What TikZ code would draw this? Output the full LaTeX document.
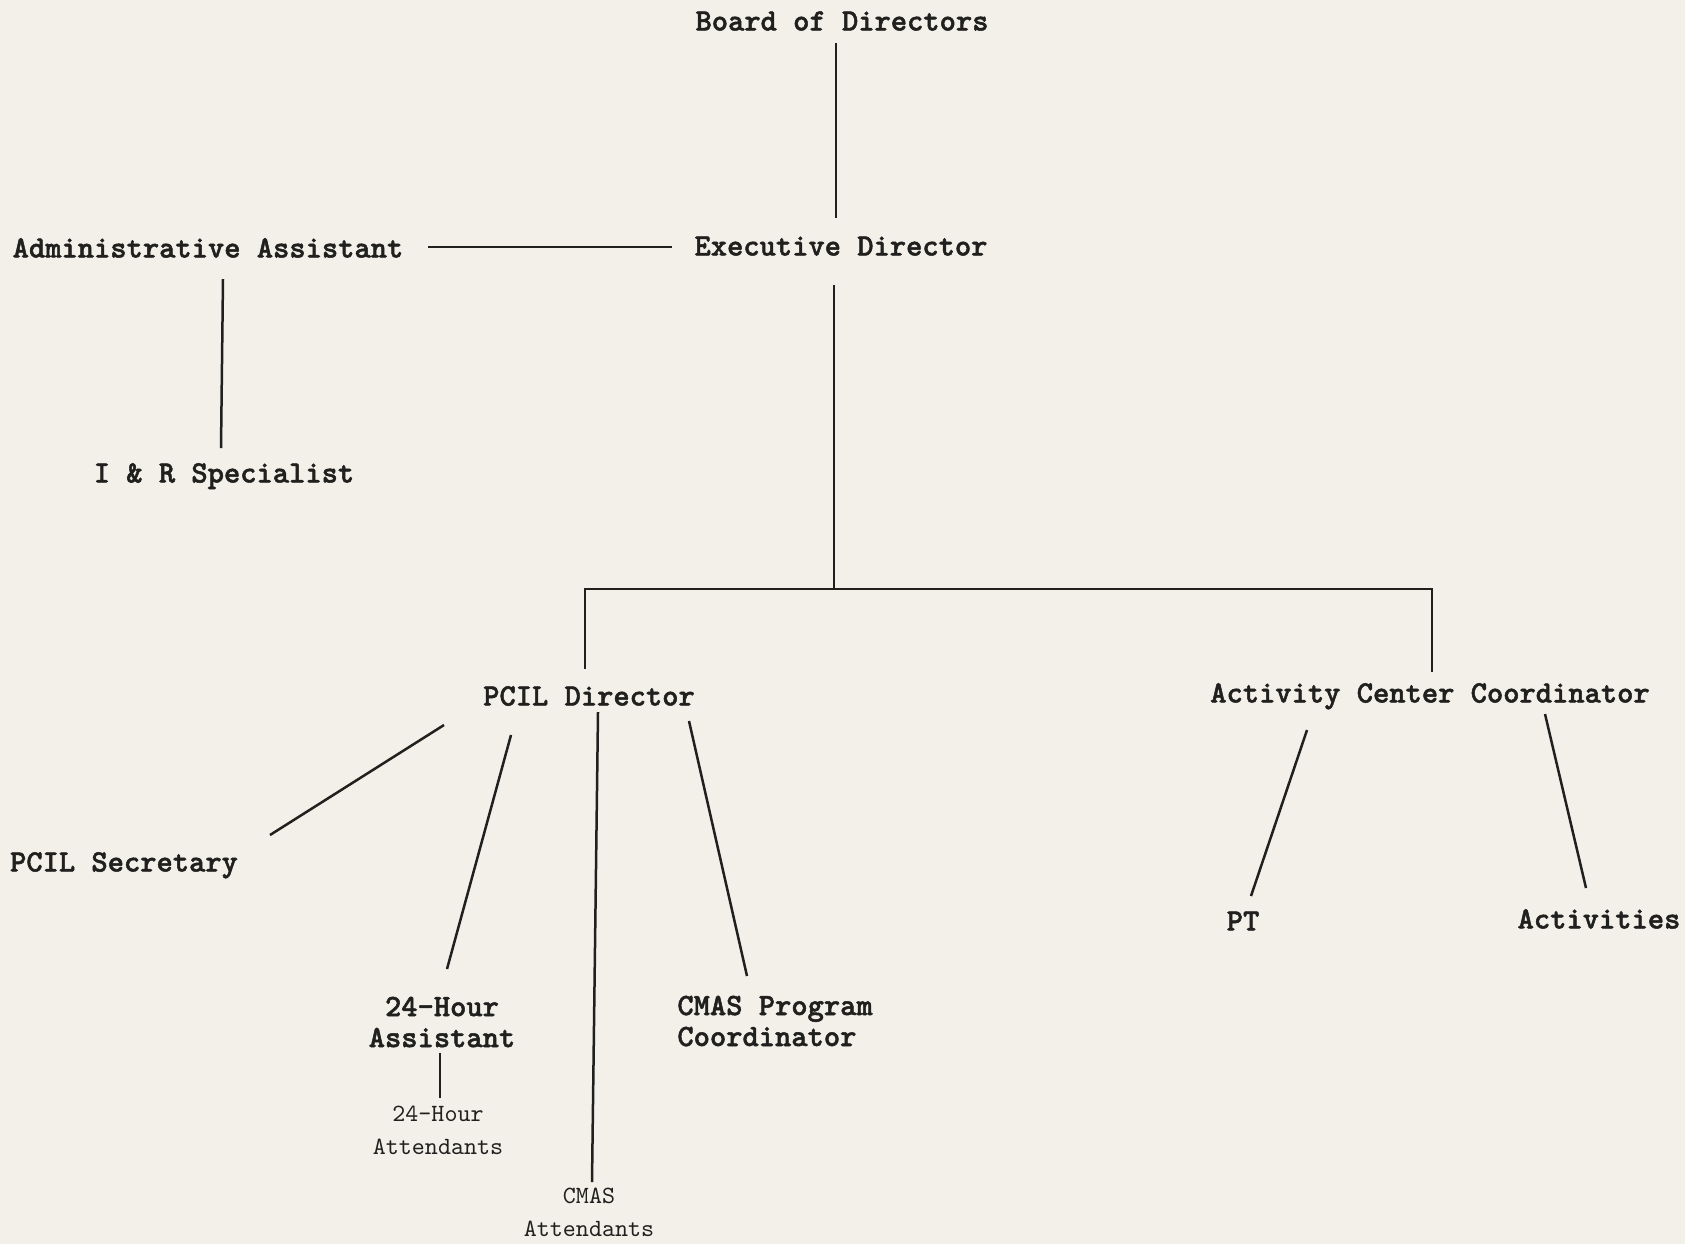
\documentclass[tikz,border=0pt]{standalone}
\usepackage{fontspec}
\newfontfamily\typebold{lmmonolt10-bold.otf}[FakeBold=1.6]
\newfontfamily\typeplain{lmmono10-regular.otf}
\definecolor{paper}{RGB}{242,240,232}
\definecolor{ink}{RGB}{32,32,30}

\begin{document}
\begin{tikzpicture}[x=0.5pt, y=-0.5pt,
    post/.style={inner sep=0pt, text=ink, text height=9.45pt, text depth=0pt, font=\typebold\fontsize{15.5}{15.5}\selectfont},
    post2/.style={inner sep=0pt, text=ink, font=\typebold\fontsize{15.5}{15.5}\selectfont},
    staff/.style={inner sep=0pt, text=ink, align=center, font=\typeplain\fontsize{12.4}{16.5}\selectfont},
    tie/.style={draw=ink, line width=1.25pt}]

    \fill[paper] (0,0) rectangle (1685,1244);
    \useasboundingbox (0,0) rectangle (1685,1244);

    % top of the chart
    \node[post] (board) at (842,21) {Board of Directors};
    \node[post] (exec) at (841,246) {Executive Director};
    \node[post] (admin) at (208,248) {Administrative Assistant};
    \node[post] (irspec) at (224,473) {I \& R Specialist};

    \draw[tie] ([shift={(-6,22)}]board.center) -- ([shift={(-5,-28)}]exec.center);
    \draw[tie] ([shift={(220,-1)}]admin.center) -- ([shift={(-169,1)}]exec.center);
    \draw[tie] ([shift={(15,31)}]admin.center) -- ([shift={(-3,-25)}]irspec.center);

    % programs
    \node[post] (pcil) at (589,696) {PCIL Director};
    \node[post] (acc) at (1430,693) {Activity Center Coordinator};

    \draw[tie] ([shift={(-7,39)}]exec.center) -- ([shift={(-7,343)}]exec.center);
    \draw[tie] ([shift={(-4,-27)}]pcil.center) -- ++(0,-80) -| ([shift={(2,-21)}]acc.center);

    % PCIL staff
    \node[post] (secretary) at (124,862) {PCIL Secretary};
    \node[post2, align=center] (hourasst) at (442,1022) {24-Hour\\Assistant};
    \node[staff] (hourattd) at (438,1130) {24-Hour\\Attendants};
    \node[staff] (cmasattd) at (589,1212) {CMAS\\Attendants};
    \node[post2, align=left, anchor=west] (cmasprog) at (677,1021) {CMAS Program\\Coordinator};

    \draw[tie] ([shift={(-145,29)}]pcil.center) -- ([shift={(146,-27)}]secretary.center);
    \draw[tie] ([shift={(-78,39)}]pcil.center) -- ([shift={(5,-53)}]hourasst.center);
    \draw[tie] ([shift={(9,16)}]pcil.center) -- ([shift={(3,-30)}]cmasattd.center);
    \draw[tie] ([shift={(100,25)}]pcil.center) -- ([shift={(70,-45)}]cmasprog.west);
    \draw[tie] ([shift={(-2,31)}]hourasst.center) -- ([shift={(2,-32)}]hourattd.center);

    % activity center staff
    \node[post] (pt) at (1243,921) {PT};
    \node[post] (activities) at (1599,919) {Activities};

    \draw[tie] ([shift={(-123,37)}]acc.center) -- ([shift={(8,-25)}]pt.center);
    \draw[tie] ([shift={(115,21)}]acc.center) -- ([shift={(-13,-31)}]activities.center);

\end{tikzpicture}
\end{document}
